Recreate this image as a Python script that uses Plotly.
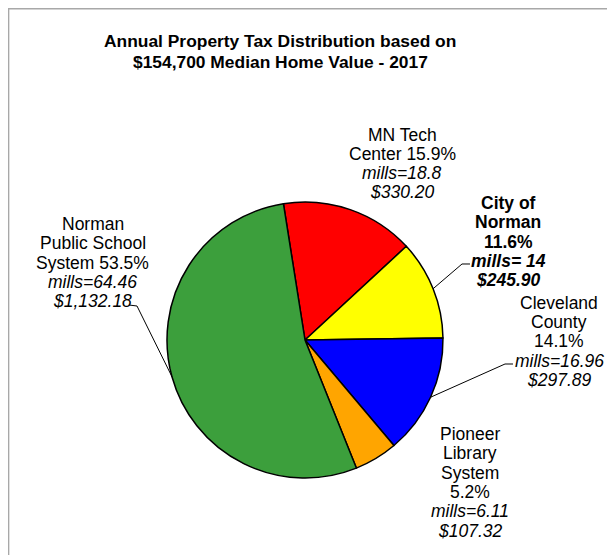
import math
import plotly.graph_objects as go

# ---- data ----
entities = ["MN Tech Center", "City of Norman", "Cleveland County",
            "Pioneer Library System", "Norman Public School System"]
dollars = [330.20, 245.90, 297.89, 107.32, 1132.18]
percents = ["15.9%", "11.6%", "14.1%", "5.2%", "53.5%"]
mills = ["18.8", " 14", "16.96", "6.11", "64.46"]
dollar_labels = ["$330.20", "$245.90", "$297.89", "$107.32", "$1,132.18"]
colors = ["#FF0000", "#FFFF00", "#0000FF", "#FFA500", "#3C9F3C"]

title_lines = ["Annual Property Tax Distribution based on",
               "$154,700 Median Home Value - 2017"]

OFF = 8                     # page body margin
W, H = 615 - OFF, 555 - OFF
CX, CY, R = 305, 340, 138   # window pixel coords
ROT = -9
FONT = "Liberation Sans, Arial, sans-serif"


def px(x):
    return (x - OFF) / W


def py(y):
    return 1 - (y - OFF) / H


fig = go.Figure()
fig.add_trace(go.Pie(
    labels=entities, values=dollars, sort=False, direction="clockwise",
    rotation=ROT, textinfo="none", hoverinfo="label+value+percent",
    marker=dict(colors=colors, line=dict(color="#000000", width=1.5)),
    domain=dict(x=[px(CX - R), px(CX + R)], y=[py(CY + R), py(CY - R)]),
))

# slice mid angles (clockwise from 12 o'clock), from data
total = sum(dollars)
mids = []
acc = ROT
for v in dollars:
    span = 360 * v / total
    mids.append(acc + span / 2)
    acc += span


def edge(i):
    a = math.radians(mids[i])
    return CX + R * math.sin(a), CY - R * math.cos(a)


annotations = []
# title
for k, t in enumerate(title_lines):
    annotations.append(dict(text="<b>%s</b>" % t, x=px(280), y=py(40.5 + 21 * k),
                            xref="paper", yref="paper", showarrow=False,
                            xanchor="center", yanchor="middle",
                            font=dict(family=FONT, size=17.4, color="#000")))

# label lines per slice
label_lines = [
    ["MN Tech", "Center " + percents[0], "<i>mills=%s</i>" % mills[0], "<i>%s</i>" % dollar_labels[0]],
    ["<b>City of</b>", "<b>Norman</b>", "<b>%s</b>" % percents[1],
     "<b><i>mills=%s</i></b>" % mills[1], "<b><i>%s</i></b>" % dollar_labels[1]],
    ["Cleveland", "County", percents[2], "<i>mills=%s</i>" % mills[2], "<i>%s</i>" % dollar_labels[2]],
    ["Pioneer", "Library", "System", percents[3], "<i>mills=%s</i>" % mills[3], "<i>%s</i>" % dollar_labels[3]],
    ["Norman", "Public School", "System " + percents[4], "<i>mills=%s</i>" % mills[4], "<i>%s</i>" % dollar_labels[4]],
]
label_pos = [(402, 133.5), (508, 202), (559, 301.7), (470, 433), (92.5, 223)]
LS = 19.3
for lines, (lx, ly) in zip(label_lines, label_pos):
    for k, t in enumerate(lines):
        annotations.append(dict(text=t, x=px(lx), y=py(ly + LS * k + 1),
                                xref="paper", yref="paper", showarrow=False,
                                xanchor="center", yanchor="middle",
                                font=dict(family=FONT, size=17.5, color="#000")))

# leader lines: label tick end points (layout), pie end from slice angle
leaders = {1: [(470, 264), (462, 264)], 2: [(513, 364), (505, 364)], 4: [(129, 305), (137, 306)]}
shapes = []
for i, pts in leaders.items():
    ex, ey = edge(i)
    allp = pts + [(ex, ey)]
    path = "M " + " L ".join("%f,%f" % (px(x), py(y)) for x, y in allp)
    shapes.append(dict(type="path", path=path, xref="paper", yref="paper",
                       line=dict(color="#000", width=1)))

# outer frame (partially visible)
shapes.append(dict(type="rect", xref="paper", yref="paper",
                   x0=0.6 / W, x1=1.05, y0=-0.05, y1=1 - 0.8 / H,
                   line=dict(color="#A8A8A8", width=1.5), layer="below"))

fig.update_layout(width=W, height=H, margin=dict(l=0, r=0, t=0, b=0),
                  paper_bgcolor="white", plot_bgcolor="white",
                  showlegend=False, annotations=annotations, shapes=shapes)

fig.write_html("out.html")
